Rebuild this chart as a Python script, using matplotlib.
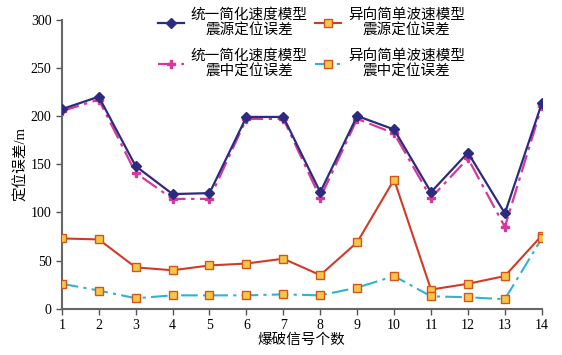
import matplotlib
matplotlib.use("Agg")
import matplotlib.pyplot as plt

plt.rcParams['font.family'] = ['Liberation Serif', 'Noto Sans CJK SC']
plt.rcParams['axes.unicode_minus'] = False

# 数据
signals = list(range(1, 15))
unified_source = [207, 220, 148, 119, 120, 199, 199, 121, 200, 186, 121, 162, 99, 213]
unified_epi = [205, 217, 141, 114, 114, 197, 197, 115, 197, 182, 115, 156, 85, 210]
aniso_source = [73, 72, 43, 40, 45, 47, 52, 35, 69, 134, 20, 26, 34, 76]
aniso_epi = [26, 19, 11, 14, 14, 14, 15, 14, 22, 34, 13, 12, 10, 73]

labels = ["统一简化速度模型\n震源定位误差", "统一简化速度模型\n震中定位误差",
          "异向简单波速模型\n震源定位误差", "异向简单波速模型\n震中定位误差"]

fig = plt.figure(figsize=(5.62, 3.55), dpi=100)
ax = fig.add_axes([0.110, 0.130, 0.854, 0.815])

l1, = ax.plot(signals, unified_source, '-', color='#2b2b80', lw=1.6,
              marker='D', ms=5, mfc='#2b2b80', mec='#2b2b80', zorder=4)
l3, = ax.plot(signals, unified_epi, '-.', color='#d8379c', lw=1.6,
              dashes=(8, 2.5, 1.5, 2.5),
              marker='P', ms=6, mfc='#d8379c', mec='#d8379c', zorder=3)
l2, = ax.plot(signals, aniso_source, '-', color='#d23a26', lw=1.5,
              marker='s', ms=6, mfc='#f7c548', mec='#d2561c', mew=1.0, zorder=3)
l4, = ax.plot(signals, aniso_epi, '-.', color='#2fb3d3', lw=1.5,
              dashes=(8, 2.5, 1.5, 2.5),
              marker='s', ms=6, mfc='#f7c548', mec='#d2561c', mew=1.0, zorder=3)

ax.set_xlim(1, 14)
ax.set_ylim(0, 300)
ax.set_xticks(signals)
ax.set_yticks(range(0, 301, 50))
ax.tick_params(labelsize=10, color='#555555', length=4, width=1)
for s in ['top', 'right']:
    ax.spines[s].set_visible(False)
for s in ['left', 'bottom']:
    ax.spines[s].set_color('#666666')
    ax.spines[s].set_linewidth(1.5)

ax.set_xlabel("爆破信号个数", fontsize=10.5, labelpad=1)
ax.set_ylabel("定位误差/m", fontsize=10.5, labelpad=2)

leg = ax.legend([l1, l3, l2, l4], labels, ncol=2, loc='upper center',
                bbox_to_anchor=(0.52, 1.085), frameon=False, fontsize=10.5,
                handlelength=1.8, columnspacing=0.5, labelspacing=0.75,
                handletextpad=0.45)
for t in leg.get_texts():
    t.set_multialignment('center')

fig.savefig("out.png", dpi=100)
